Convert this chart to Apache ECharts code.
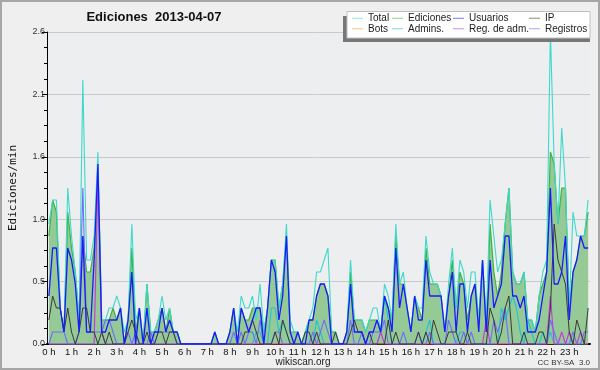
<!DOCTYPE html>
<html>
<head>
<meta charset="utf-8">
<script src="https://cdn.jsdelivr.net/npm/echarts@6/dist/echarts.min.js"></script>
<style>
html,body{margin:0;padding:0;background:#efefef}
#chart{width:600px;height:370px}
</style>
</head>
<body>
<div id="chart"></div>
<script>
// etiquetas de las horas
var hourLabels = ['0 h','1 h','2 h','3 h','4 h','5 h','6 h','7 h','8 h','9 h','10 h','11 h',
	'12 h','13 h','14 h','15 h','16 h','17 h','18 h','19 h','20 h','21 h','22 h','23 h'];

// 6 valores por hora (cada 10 min), ediciones/min
var total = [
	1.0,1.2,1.2,0.3,0.1,1.3, 0.9,0.6,0.2,2.2,0.7,0.7, 0.9,1.6,0.2,0.2,0.3,0.3, 0.4,0.3,0.1,0.2,1.0,0.2,
	0.3,0.0,0.5,0.1,0.1,0.2, 0.4,0.2,0.3,0.1,0.1,0.0, 0,0,0,0,0,0, 0,0,0.1,0,0,0,
	0.1,0.3,0.1,0.4,0.3,0.3, 0.4,0.2,0.5,0.1,0.3,0.7, 0.7,0.3,0.5,1.0,0.2,0.1, 0.1,0.0,0.1,0.2,0.3,0.6,
	0.6,0.7,0.8,0.1,0.1,0.0, 0.0,0.1,0.7,0.2,0.2,0.2, 0.1,0.2,0.3,0.3,0.1,0.5, 0.4,0.2,1.0,0.5,0.6,0.3,
	0.1,0.4,0.3,0.3,0.9,0.6, 0.5,0.5,0.4,0.1,0.5,0.8, 0.3,0.7,0.6,0.3,0.6,0.6, 0.2,0.7,0.2,1.2,0.9,0.6,
	0.7,1.0,1.3,0.6,0.5,0.5, 0.6,0.2,0.2,0.1,0.4,0.6, 0.7,2.6,1.5,1.0,1.8,1.3, 0.3,1.1,0.9,0.9,0.9,1.2
];
var ediciones = [
	0.9,1.2,1.1,0.3,0.1,1.1, 0.8,0.6,0.2,0.9,0.6,0.6, 0.8,1.5,0.2,0.2,0.2,0.3, 0.2,0.3,0.0,0.2,0.8,0.1,
	0.3,0.0,0.5,0.1,0.1,0.2, 0.3,0.1,0.3,0.1,0.1,0.0, 0,0,0,0,0,0, 0,0,0.1,0,0,0,
	0.1,0.3,0.0,0.3,0.2,0.2, 0.3,0.3,0.3,0.1,0.3,0.7, 0.7,0.3,0.5,0.9,0.1,0.1, 0.1,0.0,0.1,0.2,0.2,0.4,
	0.5,0.5,0.4,0.1,0.1,0.0, 0.0,0.1,0.6,0.2,0.2,0.2, 0.1,0.2,0.2,0.2,0.1,0.4, 0.3,0.2,0.9,0.5,0.5,0.3,
	0.1,0.4,0.3,0.2,0.8,0.5, 0.5,0.5,0.4,0.1,0.4,0.7, 0.3,0.6,0.5,0.2,0.4,0.5, 0.2,0.7,0.1,1.0,0.6,0.4,
	0.6,1.0,1.3,0.6,0.5,0.5, 0.6,0.2,0.2,0.1,0.4,0.5, 0.6,1.6,1.5,1.0,1.3,1.3, 0.3,0.6,0.7,0.9,0.9,1.1
];
var usuarios = [
	0.4,0.8,0.8,0.3,0.1,0.8, 0.7,0.5,0.1,0.9,0.1,0.1, 0.7,1.5,0.1,0.1,0.2,0.2, 0.2,0.3,0.0,0.2,0.6,0.0,
	0.3,0.0,0.3,0.0,0.1,0.1, 0.3,0.1,0.2,0.1,0.1,0.0, 0,0,0,0,0,0, 0,0,0.1,0,0,0,
	0.1,0.3,0.0,0.3,0.2,0.1, 0.2,0.3,0.3,0.0,0.3,0.7, 0.6,0.2,0.4,0.9,0.1,0.0, 0.1,0.0,0.0,0.2,0.2,0.4,
	0.5,0.5,0.4,0.0,0.0,0.0, 0.0,0.1,0.5,0.1,0.1,0.1, 0.0,0.1,0.1,0.2,0.1,0.4, 0.3,0.1,0.8,0.3,0.5,0.3,
	0.1,0.4,0.2,0.2,0.7,0.4, 0.4,0.4,0.4,0.1,0.4,0.6, 0.1,0.5,0.5,0.1,0.4,0.5, 0.1,0.7,0.1,0.7,0.3,0.4,
	0.5,0.9,0.9,0.4,0.4,0.3, 0.4,0.1,0.1,0.1,0.2,0.4, 0.6,1.3,0.5,0.5,0.6,0.9, 0.2,0.6,0.7,0.9,0.8,0.8
];
var ip = [
	0.2,0.4,0.3,0.3,0.1,0.3, 0.1,0.0,0.1,0.3,0.3,0.1, 0.1,0.0,0.1,0.0,0.1,0.0, 0.0,0.0,0.0,0.1,0.2,0.1,
	0.0,0.0,0.1,0.0,0.0,0.1, 0.1,0.0,0.1,0.1,0.0,0.0, 0,0,0,0,0,0, 0,0,0,0,0,0,
	0,0,0,0,0.1,0.1, 0.2,0.1,0.0,0.0,0.0,0.0, 0.1,0.0,0.2,0.1,0.0,0.0, 0.0,0.0,0.1,0.1,0.0,0.1,
	0.0,0.0,0.0,0.0,0.1,0.0, 0.0,0.0,0.1,0.2,0.1,0.1, 0.0,0.1,0.0,0.0,0.0,0.0, 0.2,0.0,0.1,0.0,0.0,0.0,
	0.0,0.0,0.1,0.0,0.1,0.0, 0.2,0.1,0.0,0.0,0.1,0.1, 0.1,0.0,0.0,0.1,0.0,0.0, 0.0,0.0,0.0,0.3,0.2,0.0,
	0.1,0.3,0.4,0.0,0.0,0.0, 0.1,0.0,0.0,0.0,0.1,0.1, 0.0,0.3,1.0,0.7,0.6,0.5, 0.1,0.0,0.2,0.1,0.0,0.3
];
var bots = [
	0,0,0,0,0,0, 0,0,0,0,0,0, 0,0,0,0,0,0, 0,0,0,0,0,0, 0,0,0,0,0,0, 0,0,0,0,0,0,
	0,0,0,0,0,0, 0,0,0,0,0,0, 0,0,0,0,0,0, 0,0,0,0,0,0, 0,0,0,0,0,0, 0,0,0,0,0,0,
	0,0,0,0,0,0, 0,0,0,0,0,0, 0,0,0,0,0,0, 0,0,0,0,0,0, 0,0,0,0,0,0, 0,0,0,0,0,0,
	0,0,0,0,0,0, 0,0,0,0,0,0, 0,0,0,0,0,0, 0,0,0,0,0,0, 0,0,0,0,0,0, 0,0,0,0,0,0
];
var admins = [
	0,0,0,0,0,0, 0,0,0,0,0,0, 0,0,0,0,0,0, 0,0,0,0,0,0, 0,0,0,0,0,0, 0,0,0,0,0,0,
	0,0,0,0,0,0, 0,0,0,0,0,0, 0,0,0,0,0,0, 0,0.1,0.1,0,0,0.3, 0.3,0.1,0.2,0.1,0,0, 0,0,0,0,0,0.2,
	0.1,0,0,0,0,0, 0,0,0,0,0,0, 0,0,0,0,0.1,0.4, 0.2,0,0,0,0,0, 0,0,0,0,0.1,0.2, 0,0,0,0,0,0,
	0,0.1,0.1,0,0,0, 0,0,0,0,0,0, 0.3,0.2,0.3,0.4,0.3,0.1, 0,0.2,0.1,0,0,0.1, 0,0.1,0,0,0,0, 0,0,0,0,0,0
];
var regAdm = [
	0,0,0,0,0,0, 0,0,0,0,0,0, 0,1.4,0.1,0,0,0, 0,0,0,0,0,0, 0,0,0,0,0,0, 0,0,0,0,0,0,
	0,0,0,0,0,0, 0,0,0,0,0,0, 0,0,0,0,0,0, 0,0,0,0,0,0, 0,0,0,0,0,0, 0,0,0,0,0,0,
	0,0,0,0,0,0, 0,0,0,0,0,0, 0,0,0,0,0.1,0, 0,0,0,0,0,0, 0,0,0,0,0,0, 0,0,0,0,0,0,
	0,0,0,0,0,0, 0,0,0.2,0,0,0, 0,0,0,0,0,0, 0,0,0,0,0,0, 0,0.4,0,0,0.1,0, 0.1,0,0,0.1,0,0
];
var registros = [
	0,0.1,0.1,0.1,0.1,0, 0,0,0.1,1.3,0.1,0.1, 0.1,0.1,0.1,0.2,0.2,0.1, 0,0,0,0.1,0,0.1,
	0,0,0,0.1,0,0.1, 0.1,0.1,0.1,0.1,0,0, 0,0,0,0,0,0, 0,0,0,0,0,0,
	0,0.1,0,0.1,0,0.1, 0.1,0,0.2,0,0,0, 0.1,0.1,0,0,0,0, 0,0,0,0,0.1,0,
	0.1,0.2,0.1,0,0,0, 0,0,0.2,0,0,0.1, 0,0,0.1,0.1,0.1,0.2, 0,0,0,0,0.1,0,
	0,0,0.1,0,0,0.1, 0,0,0,0,0.2,0.1, 0,0,0.1,0,0.1,0, 0,0,0,0,0.2,0.1,
	0.2,0.3,0,0,0,0, 0,0,0,0,0,0, 0,0.2,0.1,0,0,0, 0,0.1,0,0,0.1,0.1
];

var slots = [];
for (var i = 0; i < total.length; i++) slots.push(String(i));

var dom = document.getElementById('chart');
var myChart = echarts.init(dom);

function linea(name, data, color, width) {
	return {
		name: name, type: 'line', data: data, symbol: 'none', animation: false,
		lineStyle: {color: color, width: width}, itemStyle: {color: color}
	};
}

function leyenda(left, names) {
	return {
		orient: 'vertical', left: left, top: 13, padding: 0, itemGap: 0,
		icon: 'rect', itemWidth: 11, itemHeight: 1, itemStyle: {opacity: 0.6},
		selectedMode: false, data: names, z: 95,
		textStyle: {fontFamily: 'Liberation Sans', fontSize: 10, lineHeight: 10.5, color: '#222', padding: [0, 0, 0, 0]}
	};
}

var edSerie = linea('Ediciones', ediciones, '#3fb23f', 1.2);
edSerie.areaStyle = {color: '#95c995', opacity: 1};

option = {
	backgroundColor: '#efefef',
	animation: false,
	grid: {left: 44, right: 10, top: 32, bottom: 26, show: true, backgroundColor: '#eceef0', borderWidth: 0},
	legend: [
		leyenda(352, ['Total', 'Bots']),
		leyenda(392, ['Ediciones', 'Admins.']),
		leyenda(453, ['Usuarios', 'Reg. de adm.']),
		leyenda(529, ['IP', 'Registros'])
	],
	xAxis: {
		type: 'category', data: slots, boundaryGap: true,
		axisLine: {lineStyle: {color: '#000', width: 2}},
		axisTick: {interval: 0, length: 4, lineStyle: {color: '#000', width: 1}},
		axisLabel: {
			interval: function (i) { return i % 6 === 0; },
			formatter: function (v) { return hourLabels[Number(v) / 6]; },
			fontFamily: 'Liberation Sans', fontSize: 9.5, color: '#111', margin: 3
		},
		splitLine: {show: false}
	},
	yAxis: {
		type: 'value', min: 0, max: 2.6, interval: 0.52,
		name: 'Ediciones/min', nameLocation: 'middle', nameRotate: 90, nameGap: 28,
		nameTextStyle: {fontFamily: 'DejaVu Sans Mono', fontSize: 11, color: '#111'},
		axisLine: {show: true, lineStyle: {color: '#000', width: 1}},
		axisTick: {show: true, length: 5, lineStyle: {color: '#000'}},
		minorTick: {show: true, splitNumber: 4, length: 3, lineStyle: {color: '#000'}},
		axisLabel: {
			formatter: function (v) { return v.toFixed(1); },
			fontFamily: 'Liberation Sans', fontSize: 9, color: '#333', margin: 2
		},
		splitLine: {lineStyle: {color: '#c9c9c9', width: 1}}
	},
	graphic: [
		{type: 'rect', shape: {x: 343, y: 16, width: 247, height: 26}, style: {fill: '#777'}, z: 90},
		{type: 'rect', shape: {x: 347, y: 11.5, width: 243, height: 26.5}, style: {fill: '#fff', stroke: '#c0c0c0', lineWidth: 1}, z: 91},
		{type: 'text', x: 154, y: 17, style: {text: 'Ediciones  2013-04-07', fill: '#111', font: 'bold 13px "Liberation Sans"', textAlign: 'center', textVerticalAlign: 'middle'}},
		{type: 'text', x: 303, y: 362, style: {text: 'wikiscan.org', fill: '#222', font: '10px "Liberation Sans"', textAlign: 'center', textVerticalAlign: 'middle'}},
		{type: 'text', x: 590, y: 363, style: {text: 'CC BY-SA  3.0', fill: '#333', font: '8px "Liberation Sans"', textAlign: 'right', textVerticalAlign: 'middle'}},
		{type: 'rect', shape: {x: 1, y: 1, width: 598, height: 368}, style: {fill: 'none', stroke: '#a6a6a6', lineWidth: 2}, z: 100}
	],
	series: [
		edSerie,
		linea('Total', total, '#3dd9c9', 1.1),
		linea('Bots', bots, '#ff9a2e', 1),
		linea('Admins.', admins, '#1fc3d8', 1.1),
		linea('Reg. de adm.', regAdm, '#cc33dd', 1.1),
		linea('Registros', registros, '#6d6dff', 1.1),
		linea('IP', ip, '#3a3a3a', 1),
		linea('Usuarios', usuarios, '#1a1aff', 1.3)
	]
};

if (option && typeof option === 'object') {
	myChart.setOption(option, true);
}
</script>
</body>
</html>
